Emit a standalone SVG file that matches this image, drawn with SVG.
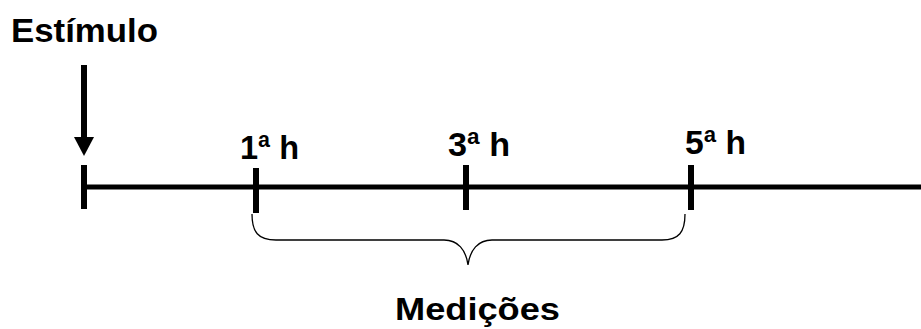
<svg xmlns="http://www.w3.org/2000/svg" width="921" height="329" viewBox="0 0 921 329">
  <style>
    .lbl { font-family: "Liberation Sans", Arial, sans-serif; font-weight: bold; font-size: 34px; fill: #000; }
    .big { font-size: 32px; }
    .axis { stroke: #000; stroke-width: 5; fill: none; }
    .tick { stroke: #000; stroke-width: 6; fill: none; }
    .brace { stroke: #000; stroke-width: 1.3; fill: none; }
  </style>
  <rect width="921" height="329" fill="#fff"/>

  <!-- stimulus arrow -->
  <g id="stimulus">
    <text class="lbl" x="11" y="42" textLength="147" lengthAdjust="spacingAndGlyphs">Estímulo</text>
    <line x1="84" y1="65" x2="84" y2="139" stroke="#000" stroke-width="6"/>
    <polygon points="74,137 94,137 84,156" fill="#000"/>
  </g>

  <!-- time axis and brace -->
  <g id="connectors">
    <line class="axis" x1="84" y1="187" x2="921" y2="187"/>
    <path class="brace" d="M252,214 C252,232 258,240 276,240 L444,240 C458,240 466,250 468,265 C470,250 478,240 492,240 L662,240 C679,240 685,232 685,214"/>
  </g>

  <g id="t0">
    <line class="tick" x1="84" y1="165" x2="84" y2="209"/>
  </g>
  <g id="h1">
    <line class="tick" x1="256" y1="168" x2="256" y2="213"/>
    <text class="lbl" x="240" y="159" textLength="59" lengthAdjust="spacingAndGlyphs">1ª h</text>
  </g>
  <g id="h3">
    <line class="tick" x1="466" y1="165" x2="466" y2="210"/>
    <text class="lbl" x="448" y="156" textLength="62" lengthAdjust="spacingAndGlyphs">3ª h</text>
  </g>
  <g id="h5">
    <line class="tick" x1="691" y1="165" x2="691" y2="210"/>
    <text class="lbl" x="685" y="154" textLength="61" lengthAdjust="spacingAndGlyphs">5ª h</text>
  </g>

  <g id="measurements">
    <text class="lbl big" x="395" y="320" textLength="165" lengthAdjust="spacingAndGlyphs">Medições</text>
  </g>
</svg>
